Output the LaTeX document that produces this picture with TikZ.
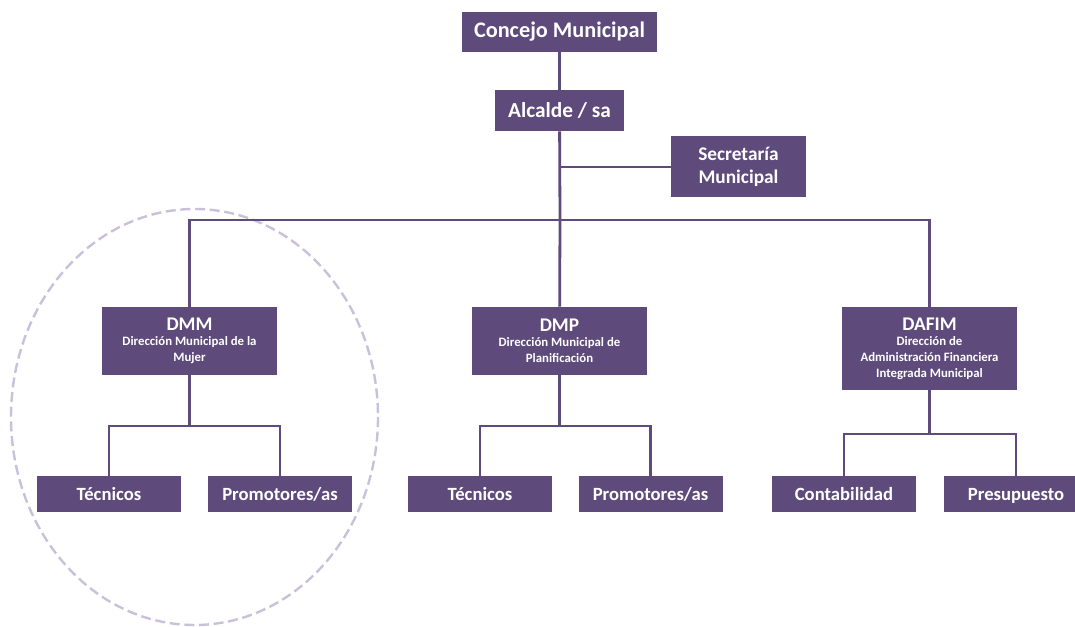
\documentclass[tikz,border=0pt]{standalone}
\usepackage{fontspec}
\setmainfont{Carlito}
\usepackage{xcolor}
\usetikzlibrary{calc}
\definecolor{orgpurple}{HTML}{5E4A7B}
\definecolor{ringlilac}{HTML}{C9C1DB}
\newcommand{\titlesize}{\fontsize{14.5}{17}\selectfont}
\newcommand{\smallsize}{\fontsize{9.6}{12.5}\selectfont}

\begin{document}
\begin{tikzpicture}[x=0.75pt, y=-0.75pt,
    unit/.style={fill=orgpurple, text=white, font=\bfseries, align=center,
      inner sep=0pt, minimum width=131.25pt, minimum height=51pt},
    leaf/.style={fill=orgpurple, text=white, font=\bfseries\fontsize{14}{16}\selectfont,
      inner sep=0pt, minimum width=108pt, minimum height=27pt,
      text height=10.5pt, text depth=1.5pt},
    link/.style={draw=orgpurple, line width=2.1pt}]
    \useasboundingbox (0,0) rectangle (1075,627);
    \clip (0,0) rectangle (1075,627);

    % Dashed ring around the DMM
    \draw[ringlilac, line width=1.8pt, dash pattern=on 7.5pt off 3.5pt]
      (194.5,417) ellipse [x radius=183.5, y radius=208];

    % Top of the chart
    \node[unit, font=\bfseries\fontsize{16.7}{18}\selectfont, minimum width=146.25pt,
      minimum height=30pt] (conc) at (559.5,32) {Concejo Municipal};
    \node[unit, font=\bfseries\fontsize{16}{18}\selectfont, minimum width=96.75pt,
      minimum height=30.75pt] (alc) at (559.5,110.5) {Alcalde / sa};
    \node[unit, font=\bfseries\fontsize{14.5}{17}\selectfont, minimum width=101.25pt,
      minimum height=45.75pt] (sec) at (738.5,167) {Secretaría\\Municipal};

    % Directions
    \node[unit] (dmm) at (189.5,341) {\titlesize DMM\\[-1pt]
      \smallsize Dirección Municipal de la\\\smallsize Mujer};
    \node[unit] (dmp) at (559.5,341) {\titlesize DMP\\[-1pt]
      \smallsize Dirección Municipal de\\\smallsize Planificación};
    \node[unit, minimum height=62.25pt] (dafim) at (929.5,348.5)
      {\titlesize DAFIM\\[-1pt]
      \smallsize Dirección de\\\smallsize Administración Financiera\\
      \smallsize Integrada Municipal};

    % Staff
    \node[leaf] (t1) at (109,494) {Técnicos};
    \node[leaf] (p1) at (280,494) {Promotores/as};
    \node[leaf] (t2) at (480,494) {Técnicos};
    \node[leaf] (p2) at (650.5,494) {Promotores/as};
    \node[leaf] (cont) at (844,494) {Contabilidad};
    \node[leaf] (pres) at (1016,494) {Presupuesto};

    % Junctions
    \coordinate (sj) at (560,167);
    \coordinate (bus) at (560,220);
    \coordinate (b1) at (189.5,426);
    \coordinate (b2) at (559.5,426);
    \coordinate (b3) at (929.5,434);

    \draw[link] (conc) -- (alc);
    \draw[link] (alc) -- (bus);
    \draw[link] (sj) -- (sec);
    \draw[link] (bus) -| (dmm);
    \draw[link] (bus) -- (dmp);
    \draw[link] (bus) -| (dafim);

    \draw[link] (dmm) -- (b1);
    \draw[link] (b1) -| (t1);
    \draw[link] (b1) -| (p1);
    \draw[link] (dmp) -- (b2);
    \draw[link] (b2) -| (t2);
    \draw[link] (b2) -| (p2);
    \draw[link] (dafim) -- (b3);
    \draw[link] (b3) -| (cont);
    \draw[link] (b3) -| (pres);
  \end{tikzpicture}
\end{document}
